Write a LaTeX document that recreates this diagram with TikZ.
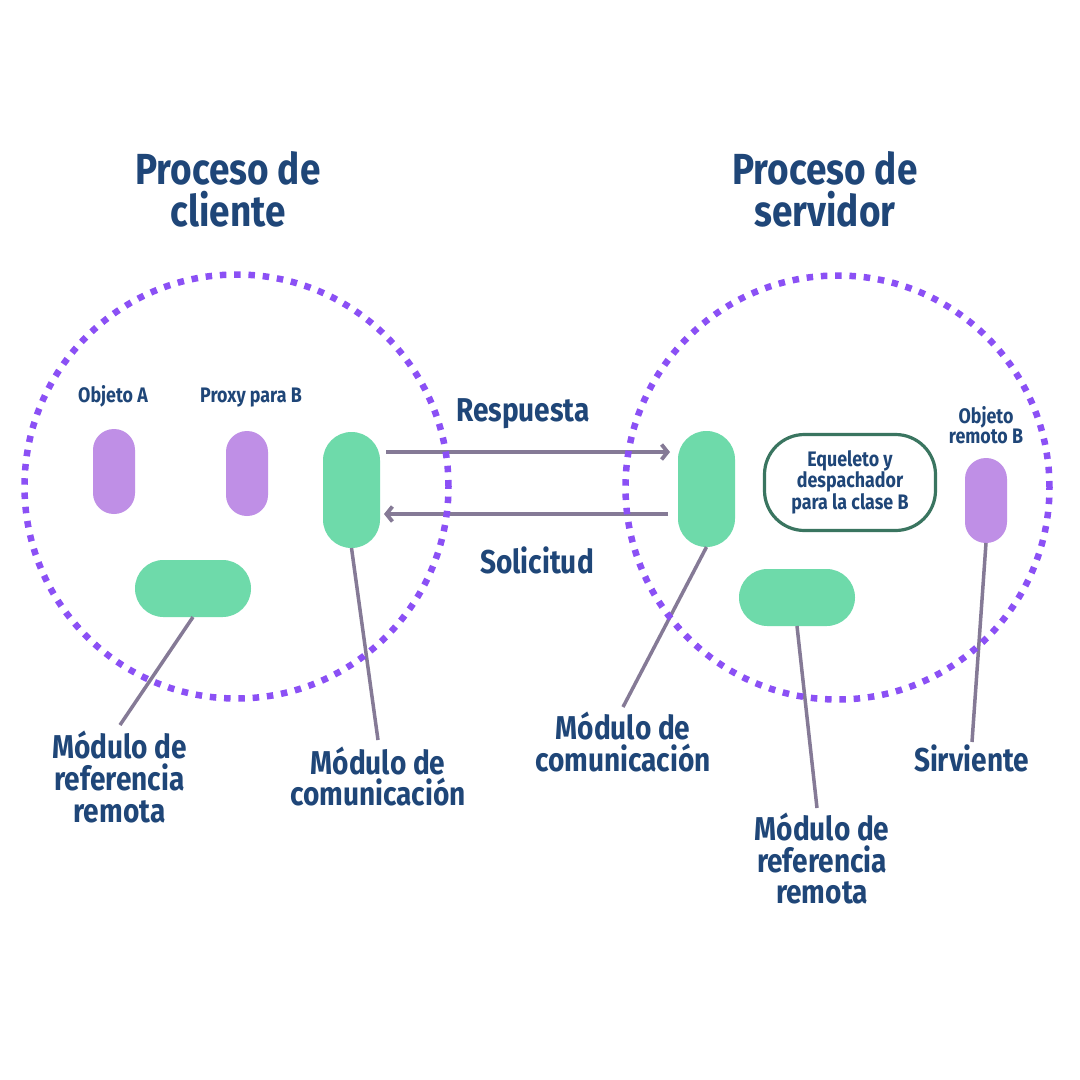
\documentclass[tikz,border=0pt]{standalone}
\usepackage{fontspec}
\setmainfont{Fira Sans}[FakeStretch=0.85]
\usetikzlibrary{arrows.meta,calc}
\definecolor{txtblue}{HTML}{1F4678}
\definecolor{dotpurple}{HTML}{8B50F5}
\definecolor{pillgreen}{HTML}{6EDAAA}
\definecolor{pilllav}{HTML}{BF8FE6}
\definecolor{linegray}{HTML}{857A96}
\definecolor{boxgreen}{HTML}{3A7560}
\tikzset{
  titletxt/.style={text=txtblue, font=\fontsize{43.5}{42}\selectfont\bfseries, align=center, inner sep=0pt},
  bigtxt/.style={text=txtblue, font=\fontsize{33}{31.8}\selectfont\bfseries, align=center, inner sep=0pt},
  smalltxt/.style={text=txtblue, font=\fontsize{21}{20.5}\selectfont\bfseries, align=center, inner sep=0pt},
  boxtxt/.style={text=txtblue, font=\fontsize{21}{21.5}\selectfont\bfseries, align=center, inner sep=0pt},
  vpill/.style={rectangle, fill=pilllav, minimum width=42pt, minimum height=85pt, rounded corners=20.9pt, inner sep=0pt, outer sep=0pt},
  gvpill/.style={rectangle, fill=pillgreen, minimum width=57pt, minimum height=116pt, rounded corners=28.4pt, inner sep=0pt, outer sep=0pt},
  ghpill/.style={rectangle, fill=pillgreen, minimum width=116pt, minimum height=57pt, rounded corners=28.4pt, inner sep=0pt, outer sep=0pt},
  procircle/.style={circle, draw=dotpurple, line width=6.5pt, dash pattern=on 6.5pt off 7.8pt, minimum size=424pt, inner sep=0pt},
  skelbox/.style={rectangle, draw=boxgreen, line width=3.2pt, minimum width=171pt, minimum height=96pt, rounded corners=40pt, inner sep=0pt},
  conn/.style={draw=linegray, line width=3.5pt},
  flow/.style={draw=linegray, line width=3.8pt, -{Straight Barb[length=6pt,width=15pt]}}
}
\begin{document}
\begin{tikzpicture}[x=1pt,y=-1pt]
\useasboundingbox[fill=white] (0,0) rectangle (1080,1080);

% titles
\node[titletxt] (tcli) at (228,189) {Proceso de\\cliente};
\node[titletxt] (tser) at (825,189) {Proceso de\\servidor};

% client side
\node[vpill] (objA) at (114,471.5) {};
\node[vpill] (proxy) at (247,473.5) {};
\node[gvpill] (lcomm) at (351.5,490) {};
\node[ghpill] (lref) at (193,588.5) {};
\node[smalltxt, anchor=base] (lobjA) at (113,402) {Objeto A};
\node[smalltxt, anchor=base] (lproxy) at (251,402) {Proxy para B};

% server side
\node[gvpill] (rcomm) at (706.5,489) {};
\node[skelbox] (skel) at (850,482.5) {};
\node[boxtxt] (lskel) at (850,482) {Equeleto y\\despachador\\para la clase B};
\node[vpill] (objB) at (986,500.5) {};
\node[ghpill] (rref) at (797,597.5) {};
\node[smalltxt] (lobjB) at (986,425) {Objeto\\remoto B};

% flows
\draw[flow] ($(lcomm.east)+(6,-38)$) -- ($(rcomm.west)+(-8,-37)$);
\draw[flow] ($(rcomm.west)+(-10,25)$) -- ($(lcomm.east)+(4,24)$);
\node[bigtxt, anchor=base] (lresp) at (523,421) {Respuesta};
\node[bigtxt, anchor=base] (lsol) at (537,573) {Solicitud};

% connector end points
\coordinate (e1) at (120,725);
\coordinate (e2) at (378,740);
\coordinate (e3) at (623,707);
\coordinate (e4) at (817,808);
\coordinate (e5) at (972,742);
\draw[conn] (lref.south) -- (e1);
\draw[conn] (lcomm.south) -- (e2);
\draw[conn] (rcomm.south) -- (e3);
\draw[conn] (rref.south) -- (e4);
\draw[conn] (objB.south) -- (e5);

% labels
\node[bigtxt] (llref) at (119.5,777) {Módulo de\\referencia\\remota};
\node[bigtxt] (llcomm) at (378,776.5) {Módulo de\\comunicación};
\node[bigtxt] (lrcomm) at (623,742) {Módulo de\\comunicación};
\node[bigtxt, anchor=base] (lserv) at (971.5,771) {Sirviente};
\node[bigtxt] (lrref) at (822,858.5) {Módulo de\\referencia\\remota};

% process circles
\node[procircle] (cliente) at (236.5,486.5) {};
\node[procircle] (servidor) at (837.5,487.5) {};
\end{tikzpicture}
\end{document}
